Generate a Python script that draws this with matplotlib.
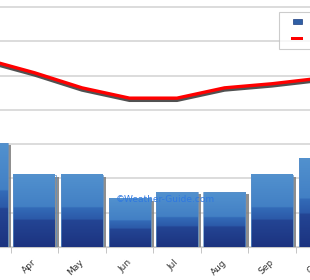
import matplotlib
matplotlib.use("Agg")
import matplotlib.pyplot as plt
import matplotlib.patheffects as pe
import matplotlib.transforms as mtransforms
from matplotlib.patches import Patch, Rectangle
from matplotlib.legend_handler import HandlerPatch
import numpy as np

months = ["Mar", "Apr", "May", "Jun", "Jul", "Aug", "Sep", "Oct"]
rain = [30.3, 21.0, 21.0, 14.0, 16.0, 16.0, 21.0, 25.7]
temp = [27.3, 25.4, 23.2, 21.7, 21.7, 23.2, 23.8, 24.6]

W, H = 310, 280
PT = 100 / 72  # px per point
fig = plt.figure(figsize=(W / 100, H / 100), dpi=100)
fig.patch.set_facecolor("white")

# chart is cropped: axes run past the figure edges
x0_px, step_px = -13 - 47.5 * 0.5, 47.5
ax = fig.add_axes([x0_px / W, (H - 247) / H, step_px * len(months) / W, 274.4 / H])

ax.set_yticks(np.arange(0, 81, 10))
ax.yaxis.grid(True, color="#d9d9d9", linewidth=1.3)
ax.set_axisbelow(True)
for s in ["top", "right", "left"]:
    ax.spines[s].set_visible(False)
ax.spines["bottom"].set_color("#c8c8c8")
ax.tick_params(axis="y", length=0, labelleft=False)

x = np.arange(len(months))
bw = 42 / 47.5
stops = [
    (0.00, (0.32, 0.57, 0.81)),
    (0.45, (0.26, 0.50, 0.77)),
    (0.46, (0.20, 0.42, 0.72)),
    (0.62, (0.17, 0.35, 0.66)),
    (0.63, (0.14, 0.27, 0.58)),
    (1.00, (0.11, 0.20, 0.50)),
]
f = np.linspace(0, 1, 200)
grad = np.zeros((200, 1, 3))
for c in range(3):
    grad[:, 0, c] = np.interp(f, [s[0] for s in stops], [s[1][c] for s in stops])

for xi, r in zip(x, rain):
    ax.bar(xi + 0.07, r - 0.6, width=bw, color="#7c7c7c", alpha=0.85,
           zorder=2, linewidth=0)
    ax.imshow(grad, extent=[xi - bw / 2, xi + bw / 2, 0, r], aspect="auto",
              zorder=3, interpolation="bilinear")
    ax.bar(xi, r, width=bw, fill=False, edgecolor="#5a8fc8", linewidth=0.5, zorder=4)

ax.set_xlim(-0.5, len(months) - 0.5)
ax.set_ylim(0, 80)
ax.set_aspect("auto")

ax.set_xticks(x)
ax.set_xticklabels(months, rotation=45, ha="right", va="top", fontsize=6.5,
                   color="#333333")
ax.tick_params(axis="x", which="major", length=0, pad=7)
shift = mtransforms.ScaledTranslation(3.5 / 100, -1 / 100, fig.dpi_scale_trans)
for lbl in ax.get_xticklabels():
    lbl.set_transform(lbl.get_transform() + shift)
ax.set_xticks(x[:-1] + 0.5, minor=True)
ax.tick_params(axis="x", which="minor", length=4, color="#bbbbbb")

ax2 = ax.twinx()
ax2.set_ylim(0, 40)
ax2.axis("off")
ax2.plot(x, temp, color="red", linewidth=2.4, zorder=5,
         path_effects=[pe.SimpleLineShadow(offset=(0, -1.6), shadow_color="#333333",
                                           alpha=0.85),
                       pe.Normal()])

fig.text(165 / W, 1 - 200 / H, "\u00a9Weather-Guide.com", color="#2f78e0",
         fontsize=6.5, ha="center", va="center")


def rain_box(legend, orig_handle, xdescent, ydescent, width, height, fontsize):
    return Rectangle((-xdescent + 8.2 / PT, -ydescent + (height - 5 / PT) / 2),
                     9 / PT, 5 / PT)


def temp_box(legend, orig_handle, xdescent, ydescent, width, height, fontsize):
    return Rectangle((-xdescent + 6.2 / PT, -ydescent + (height - 2.6 / PT) / 2),
                     12 / PT, 2.6 / PT)


h_rain = Patch(facecolor="#2f5fa5", edgecolor="#1d3d80", linewidth=0.5)
h_temp = Patch(facecolor="red", edgecolor="none")
leg = fig.legend([h_rain, h_temp], ["Precipitation", "Temperature"],
                 loc="upper left", bbox_to_anchor=(279 / W, 1 - 12 / H),
                 fontsize=7, frameon=True, fancybox=False, borderpad=0.55,
                 labelspacing=0.65, handlelength=2.2, handleheight=0.7,
                 handletextpad=1.2, borderaxespad=0,
                 handler_map={h_rain: HandlerPatch(patch_func=rain_box),
                              h_temp: HandlerPatch(patch_func=temp_box)})
leg.get_frame().set_edgecolor("#c0c0c0")
leg.get_frame().set_linewidth(0.8)

fig.savefig("out.png", dpi=100)
